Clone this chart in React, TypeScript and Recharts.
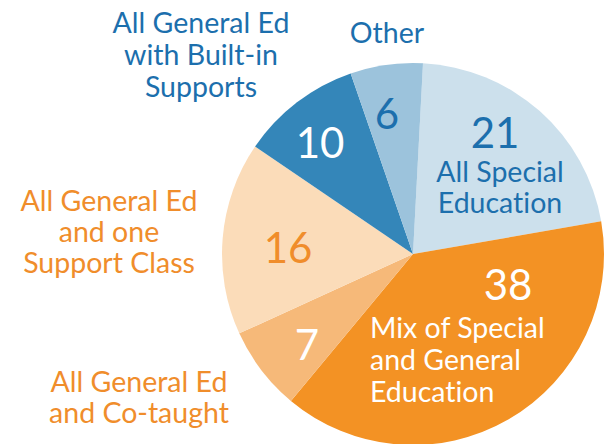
import { Cell, Pie, PieChart } from 'recharts';

const categories = [
  'All Special Education',
  'Mix of Special and General Education',
  'All General Ed and Co-taught',
  'All General Ed and one Support Class',
  'All General Ed with Built-in Supports',
  'Other',
];
const values = [21, 38, 7, 16, 10, 6];
const nameLines = [
  ['All Special', 'Education'],
  ['Mix of Special', 'and General', 'Education'],
  ['All General Ed', 'and Co-taught'],
  ['All General Ed', 'and one', 'Support Class'],
  ['All General Ed', 'with Built-in', 'Supports'],
  ['Other'],
];

const BLUE = '#1c6fad';
const ORANGE = '#f08d2b';
const sliceColors = ['#cce0ec', '#f39224', '#f6b979', '#fbdcb9', '#3486b9', '#9cc3dc'];

// label placement relative to pie centre
const labelLayout = [
  { num: [82, -106], numColor: BLUE, name: [87, -72], nameColor: BLUE, anchor: 'middle', gap: 31 },
  { num: [95, 46], numColor: '#fff', name: [-43, 84], nameColor: '#fff', anchor: 'start', gap: 32 },
  { num: [-106, 106], numColor: '#fff', name: [-274, 138], nameColor: ORANGE, anchor: 'middle', gap: 31 },
  { num: [-125, 9], numColor: ORANGE, name: [-304, -43], nameColor: ORANGE, anchor: 'middle', gap: 31 },
  { num: [-93, -96], numColor: '#fff', name: [-212, -221], nameColor: BLUE, anchor: 'middle', gap: 32 },
  { num: [-26, -125], numColor: BLUE, name: [-26, -211], nameColor: BLUE, anchor: 'middle', gap: 31 },
];

const data = categories.map((name, i) => ({ name, value: values[i] }));

const renderLabel = (props: any) => {
  const { cx, cy, index, value } = props;
  const l = labelLayout[index];
  return (
    <g key={`lbl-${index}`} style={{ fontVariantLigatures: 'none' }}>
      <text
        x={cx + l.num[0]}
        y={cy + l.num[1]}
        textAnchor="middle"
        fill={l.numColor}
        fontSize={42}
      >
        {value}
      </text>
      {nameLines[index].map((line, j) => (
        <text
          key={j}
          x={cx + l.name[0]}
          y={cy + l.name[1] + j * l.gap}
          textAnchor={l.anchor}
          fill={l.nameColor}
          fontSize={28.5}
        >
          {line}
        </text>
      ))}
    </g>
  );
};

const App = () => {
  return (
    <div style={{ position: 'fixed', top: 0, left: 0, fontFamily: 'Lato, sans-serif', background: '#fff' }}>
      <PieChart width={616} height={444} margin={{ top: 0, right: 0, bottom: 0, left: 0 }}>
        <Pie
          data={data}
          dataKey="value"
          cx={413}
          cy={254}
          outerRadius={191}
          startAngle={87}
          endAngle={-273}
          stroke="none"
          label={renderLabel}
          labelLine={false}
          isAnimationActive={false}
        >
          {data.map((d, i) => (
            <Cell key={d.name} fill={sliceColors[i]} />
          ))}
        </Pie>
      </PieChart>
    </div>
  );
};

export default App;
